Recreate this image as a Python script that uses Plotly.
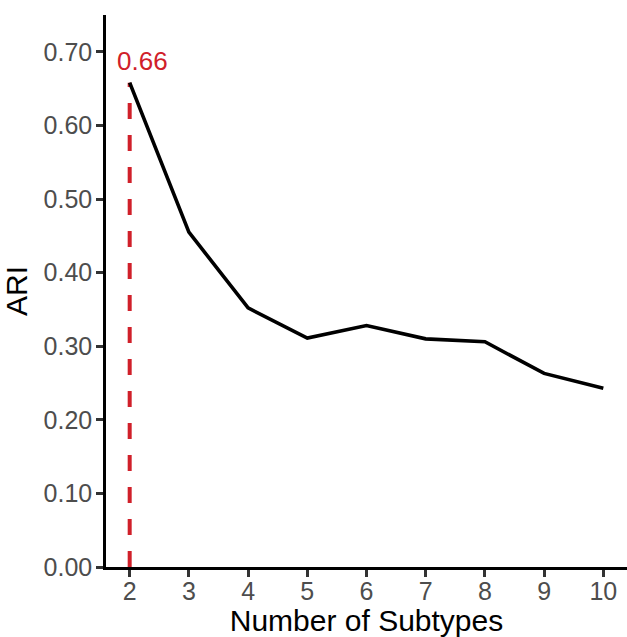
import plotly.graph_objects as go

subtypes = [2, 3, 4, 5, 6, 7, 8, 9, 10]
ari = [0.658, 0.455, 0.352, 0.311, 0.328, 0.310, 0.306, 0.263, 0.243]
y_ticks = [0.0, 0.1, 0.2, 0.3, 0.4, 0.5, 0.6, 0.7]
y_tick_labels = ["0.00", "0.10", "0.20", "0.30", "0.40", "0.50", "0.60", "0.70"]

best_i = max(range(len(ari)), key=lambda i: ari[i])
best_k = subtypes[best_i]
best_ari = ari[best_i]

RED = "#d0202a"
FONT = "Liberation Sans, Arial, Helvetica, sans-serif"

fig = go.Figure()
fig.add_trace(go.Scatter(
    x=[best_k, best_k], y=[0, best_ari], mode="lines",
    line=dict(color=RED, width=4, dash="16px,16px"),
    hoverinfo="skip", showlegend=False,
))
fig.add_trace(go.Scatter(
    x=subtypes, y=ari, mode="lines",
    line=dict(color="black", width=3.6),
    showlegend=False,
))
fig.add_annotation(
    x=best_k, y=best_ari, xref="x", yref="y",
    text=f"{best_ari:.2f}", showarrow=False,
    xshift=12.5, yshift=22, xanchor="center", yanchor="middle",
    font=dict(family=FONT, size=26, color=RED),
)

fig.update_layout(
    width=627, height=637,
    margin=dict(l=106, r=0, t=15, b=70, autoexpand=False),
    plot_bgcolor="white", paper_bgcolor="white",
    font=dict(family=FONT),
    xaxis=dict(
        range=[1.6, 10.4], tickmode="array", tickvals=subtypes,
        ticktext=[str(s) for s in subtypes],
        showgrid=False, zeroline=False,
        showline=True, linecolor="black", linewidth=2.5,
        ticks="outside", ticklen=7, tickwidth=2.5, tickcolor="#333333",
        tickfont=dict(family=FONT, size=25, color="#4d4d4d"),
        ticklabelstandoff=-7,
        title=dict(text="Number of Subtypes", font=dict(family=FONT, size=30, color="black"), standoff=0),
        automargin=False,
    ),
    yaxis=dict(
        range=[0, 0.75], tickmode="array", tickvals=y_ticks, ticktext=y_tick_labels,
        showgrid=False, zeroline=False,
        showline=True, linecolor="black", linewidth=2.5,
        ticks="outside", ticklen=7, tickwidth=2.5, tickcolor="#333333",
        tickfont=dict(family=FONT, size=25, color="#4d4d4d"),
        ticklabelstandoff=-1,
        title=dict(text="ARI", font=dict(family=FONT, size=30, color="black"), standoff=16),
        automargin=False,
    ),
)

fig.write_html(
    "out.html",
    config={"displayModeBar": False},
    post_script="document.documentElement.style.overflow='hidden';"
                "document.body.style.margin='0';document.body.style.overflow='hidden';",
)
